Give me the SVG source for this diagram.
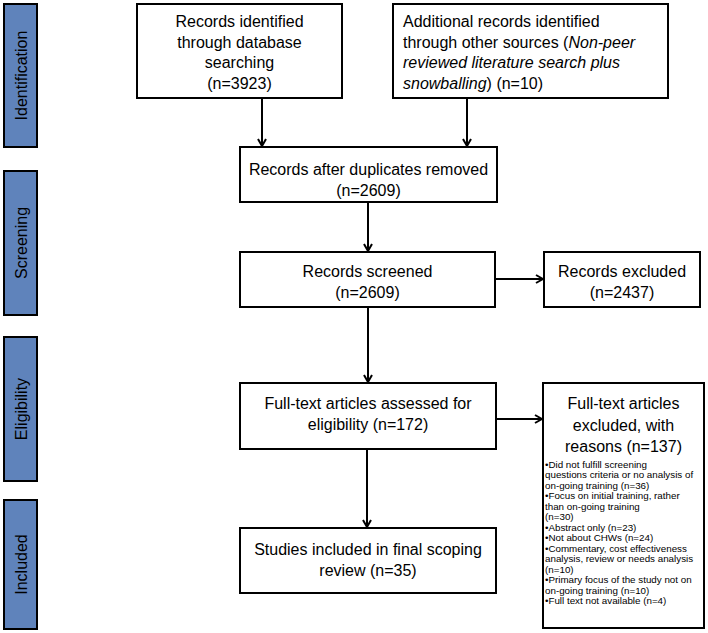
<svg xmlns="http://www.w3.org/2000/svg" width="708" height="633" viewBox="0 0 708 633">
<style>
.box{fill:#fff;stroke:#000;stroke-width:2}
.bar{fill:#5F83BB;stroke:#000;stroke-width:2}
text{font-family:"Liberation Sans",Arial,sans-serif;fill:#000}
.t{font-size:16px}
.c{text-anchor:middle}
.s{font-size:9.8px}
.bl{font-size:16px;text-anchor:middle;dominant-baseline:central}
.con{stroke:#000;stroke-width:2;fill:none;marker-end:url(#arr)}
</style>
<defs>
<marker id="arr" viewBox="0 0 10 10" refX="9" refY="5" markerWidth="10" markerHeight="10" markerUnits="userSpaceOnUse" orient="auto">
<path d="M2,1 L9,5 L2,9" fill="none" stroke="#000" stroke-width="2"/>
</marker>
</defs>
<g id="phases">
<g id="bar-identification"><rect class="bar" x="4" y="4" width="33" height="143"/><text class="bl" transform="translate(21,75.5) rotate(-90)">Identification</text></g>
<g id="bar-screening"><rect class="bar" x="4" y="171" width="33" height="144"/><text class="bl" transform="translate(21,243) rotate(-90)">Screening</text></g>
<g id="bar-eligibility"><rect class="bar" x="4" y="337" width="33" height="144"/><text class="bl" transform="translate(21,409) rotate(-90)">Eligibility</text></g>
<g id="bar-included"><rect class="bar" x="4" y="500" width="33" height="129"/><text class="bl" transform="translate(21,564.5) rotate(-90)">Included</text></g>
</g>
<g id="connectors">
<line class="con" x1="262" y1="98" x2="262" y2="146"/>
<line class="con" x1="467" y1="98" x2="467" y2="146"/>
<line class="con" x1="368" y1="202" x2="368" y2="251"/>
<line class="con" x1="495" y1="279" x2="543" y2="279"/>
<line class="con" x1="368" y1="307" x2="368" y2="382"/>
<line class="con" x1="496" y1="419" x2="542" y2="419"/>
<line class="con" x1="367" y1="449" x2="367" y2="527"/>
</g>
<g id="n1"><rect class="box" x="137" y="4" width="205" height="94"/>
<text class="t c"><tspan x="239.5" y="27">Records identified</tspan><tspan x="239.5" y="47.5">through database</tspan><tspan x="239.5" y="68">searching</tspan><tspan x="239.5" y="88.5">(n=3923)</tspan></text></g>
<g id="n2"><rect class="box" x="393" y="4" width="275" height="94"/>
<text class="t"><tspan x="403" y="27">Additional records identified</tspan><tspan x="403" y="47.5">through other sources (<tspan font-style="italic">Non-peer</tspan></tspan><tspan x="403" y="68" font-style="italic">reviewed literature search plus</tspan><tspan x="403" y="88.5"><tspan font-style="italic">snowballing</tspan>) (n=10)</tspan></text></g>
<g id="n3"><rect class="box" x="240" y="147" width="257" height="55"/>
<text class="t c"><tspan x="368.5" y="175">Records after duplicates removed</tspan><tspan x="368.5" y="195.5">(n=2609)</tspan></text></g>
<g id="n4"><rect class="box" x="240" y="252" width="255" height="55"/>
<text class="t c"><tspan x="367.5" y="277">Records screened</tspan><tspan x="367.5" y="297.5">(n=2609)</tspan></text></g>
<g id="n5"><rect class="box" x="544" y="252" width="156" height="55"/>
<text class="t c"><tspan x="622" y="277">Records excluded</tspan><tspan x="622" y="297.5">(n=2437)</tspan></text></g>
<g id="n6"><rect class="box" x="240" y="383" width="256" height="66"/>
<text class="t c"><tspan x="368" y="409">Full-text articles assessed for</tspan><tspan x="368" y="429.5">eligibility (n=172)</tspan></text></g>
<g id="n7"><rect class="box" x="543" y="383" width="161" height="245"/>
<text class="t c"><tspan x="623.5" y="409">Full-text articles</tspan><tspan x="623.5" y="430.5">excluded, with</tspan><tspan x="623.5" y="452">reasons (n=137)</tspan></text>
<text class="s"><tspan x="545" y="467.5">•Did not fulfill screening</tspan><tspan x="545" y="478">questions criteria or no analysis of</tspan><tspan x="545" y="488.5">on-going training (n=36)</tspan><tspan x="545" y="499">•Focus on initial training, rather</tspan><tspan x="545" y="509.5">than on-going training</tspan><tspan x="545" y="520">(n=30)</tspan><tspan x="545" y="530.5">•Abstract only (n=23)</tspan><tspan x="545" y="541">•Not about CHWs (n=24)</tspan><tspan x="545" y="551.5">•Commentary, cost effectiveness</tspan><tspan x="545" y="562">analysis, review or needs analysis</tspan><tspan x="545" y="572.5">(n=10)</tspan><tspan x="545" y="583">•Primary focus of the study not on</tspan><tspan x="545" y="593.5">on-going training (n=10)</tspan><tspan x="545" y="604">•Full text not available (n=4)</tspan></text></g>
<g id="n8"><rect class="box" x="240" y="528" width="256" height="65"/>
<text class="t c"><tspan x="368" y="555">Studies included in final scoping</tspan><tspan x="368" y="575.5">review (n=35)</tspan></text></g>
</svg>
